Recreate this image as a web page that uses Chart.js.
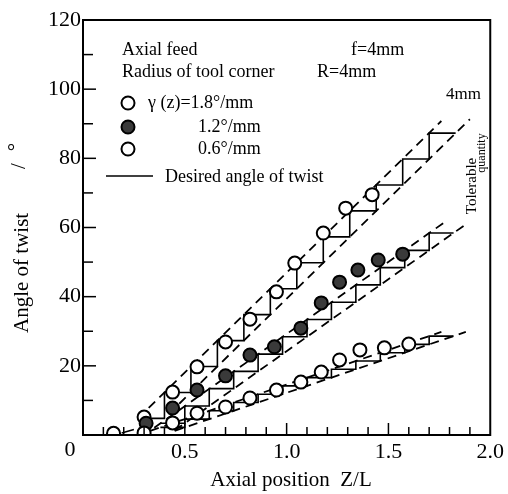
<!DOCTYPE html>
<html>
<head>
<meta charset="utf-8">
<script src="https://cdn.jsdelivr.net/npm/chart.js@4/dist/chart.umd.min.js"></script>
<style>
  body { margin: 0; background: #fff; }
  canvas { display: block; }
</style>
</head>
<body>
<canvas id="twistChart" width="508" height="494"></canvas>
<script>
const s18x = [0.30, 0.44, 0.56, 0.70, 0.82, 0.95, 1.04, 1.18, 1.29, 1.42];
const s18y = [5.2, 12.4, 19.7, 26.9, 33.5, 41.4, 49.7, 58.4, 65.6, 69.5];
const s12x = [0.31, 0.44, 0.56, 0.70, 0.82, 0.94, 1.07, 1.17, 1.26, 1.35, 1.45, 1.57];
const s12y = [3.4, 7.8, 13.0, 17.1, 23.1, 25.5, 30.9, 38.2, 44.2, 47.7, 50.6, 52.3];
const s06x = [0.15, 0.30, 0.44, 0.56, 0.70, 0.82, 0.95, 1.07, 1.17, 1.26, 1.36, 1.48, 1.60];
const s06y = [0.5, 0.6, 3.5, 6.3, 8.1, 10.7, 13.0, 15.3, 18.2, 21.7, 24.6, 25.2, 26.3];

// desired angle of twist (stepped): riser positions and tread levels
const step18x = [0.27, 0.40, 0.53, 0.66, 0.79, 0.92, 1.05, 1.18, 1.31, 1.44, 1.57, 1.70, 1.83];
const step18y = [4.8, 12.3, 19.8, 27.3, 34.8, 42.3, 49.8, 57.3, 64.8, 72.3, 79.8, 87.3];
const step12x = [0.38, 0.50, 0.62, 0.74, 0.86, 0.98, 1.10, 1.22, 1.34, 1.46, 1.58, 1.70, 1.82];
const step12y = [3.4, 8.4, 13.4, 18.4, 23.4, 28.4, 33.4, 38.4, 43.4, 48.4, 53.4, 58.4];
const step06x = [0.38, 0.50, 0.62, 0.74, 0.86, 0.98, 1.10, 1.22, 1.34, 1.46, 1.58, 1.70, 1.82];
const step06y = [2.2, 4.6, 7.0, 9.4, 11.8, 14.2, 16.6, 19.0, 21.4, 23.8, 26.2, 28.6];

// tolerable quantity bands (dashed)
const tol18aX = [0.27, 1.76], tol18aY = [4.8, 90.8];
const tol18bX = [0.42, 1.90], tol18bY = [6.0, 91.3];
const tol12aX = [0.35, 1.77], tol12aY = [2.1, 61.3];
const tol12bX = [0.45, 1.87], tol12bY = [1.3, 60.5];
const tol06aX = [0.33, 1.76], tol06aY = [1.2, 29.8];
const tol06bX = [0.45, 1.88], tol06bY = [1.2, 29.8];

// little arrow near the origin
const arrowX = [0.19, 0.25], arrowY = [0.6, 1.6];

const xTicks = [0.5, 1.0, 1.5, 2.0];
const yTicks = [20, 40, 60, 80, 100, 120];

const serif = '"Liberation Serif", "DejaVu Serif", serif';

function pts(xs, ys) {
    return xs.map((x, i) => ({ x: x, y: ys[i] }));
}

function stairs(xs, ys) {
    const out = [];
    for (let i = 0; i < ys.length; i++) {
        if (i > 0) out.push({ x: xs[i], y: ys[i - 1] });
        out.push({ x: xs[i], y: ys[i] });
    }
    out.push({ x: xs[xs.length - 1], y: ys[ys.length - 1] });
    return out;
}

function stepSet(xs, ys) {
    return {
        data: stairs(xs, ys), showLine: true, pointRadius: 0,
        borderColor: '#000', borderWidth: 1.6, order: 3
    };
}

function dashSet(xs, ys) {
    return {
        data: pts(xs, ys), showLine: true, pointRadius: 0,
        borderColor: '#000', borderWidth: 1.8, borderDash: [9, 6], order: 3
    };
}

function markSet(xs, ys, fill) {
    return {
        data: pts(xs, ys), showLine: false, pointRadius: 6.5,
        pointBackgroundColor: fill, pointBorderColor: '#000', pointBorderWidth: 2, order: 1
    };
}

// frame, inward ticks and all the loose text of the figure
const decor = {
    id: 'decor',
    afterDraw(chart) {
        const ctx = chart.ctx;
        const a = chart.chartArea;
        const xs = chart.scales.x, ys = chart.scales.y;
        ctx.save();
        ctx.strokeStyle = '#000';
        ctx.lineWidth = 2;
        ctx.strokeRect(a.left, a.top, a.right - a.left, a.bottom - a.top);

        ctx.lineWidth = 1.5;
        for (let v = 1; v < 20; v++) {
            const px = xs.getPixelForValue(v / 10);
            const len = v % 5 === 0 ? 12 : 8;
            ctx.beginPath();
            ctx.moveTo(px, a.bottom);
            ctx.lineTo(px, a.bottom - len);
            ctx.stroke();
        }
        for (let v = 10; v < 120; v += 10) {
            const py = ys.getPixelForValue(v);
            const len = v % 20 === 0 ? 13 : 10;
            ctx.beginPath();
            ctx.moveTo(a.left, py);
            ctx.lineTo(a.left + len, py);
            ctx.stroke();
        }

        ctx.fillStyle = '#000';
        ctx.textBaseline = 'middle';
        ctx.textAlign = 'center';
        ctx.font = '22px ' + serif;
        ctx.fillText('0', 70, 450);

        ctx.font = '21px ' + serif;
        ctx.fillText('Axial position  Z/L', 291, 480);

        // y title, rotated
        ctx.save();
        ctx.translate(22, 333);
        ctx.rotate(-Math.PI / 2);
        ctx.textAlign = 'left';
        ctx.fillText('Angle of twist', 0, 0);
        ctx.textAlign = 'center';
        ctx.fillText('/', 167, -3);
        ctx.fillText('°', 186, -6);
        ctx.restore();

        ctx.textAlign = 'left';
        ctx.font = '18px ' + serif;
        ctx.fillText('Axial feed', 122, 50);
        ctx.fillText('f=4mm', 351, 50);
        ctx.fillText('Radius of tool corner', 122, 72);
        ctx.fillText('R=4mm', 317, 72);
        ctx.font = '17px ' + serif;
        ctx.fillText('4mm', 446, 95);

        ctx.font = '18px ' + serif;
        ctx.fillText('γ (z)=1.8°/mm', 148, 103);
        ctx.fillText('1.2°/mm', 198, 127);
        ctx.fillText('0.6°/mm', 198, 149);
        ctx.fillText('Desired angle of twist', 165, 177);

        const marks = [[103, '#fff'], [127, '#3a3a3a'], [149, '#fff']];
        ctx.lineWidth = 2;
        marks.forEach(m => {
            ctx.beginPath();
            ctx.arc(128, m[0], 6.5, 0, Math.PI * 2);
            ctx.fillStyle = m[1];
            ctx.fill();
            ctx.stroke();
        });
        ctx.lineWidth = 1.6;
        ctx.beginPath();
        ctx.moveTo(106, 176);
        ctx.lineTo(153, 176);
        ctx.stroke();

        // tolerable quantity, vertical
        ctx.fillStyle = '#000';
        ctx.save();
        ctx.translate(472, 186);
        ctx.rotate(-Math.PI / 2);
        ctx.textAlign = 'center';
        ctx.font = '15px ' + serif;
        ctx.fillText('Tolerable', 0, 0);
        ctx.restore();
        ctx.save();
        ctx.translate(482, 153);
        ctx.rotate(-Math.PI / 2);
        ctx.textAlign = 'center';
        ctx.font = '12px ' + serif;
        ctx.fillText('quantity', 0, 0);
        ctx.restore();

        ctx.restore();
    }
};

const ctx = document.getElementById('twistChart').getContext('2d');
new Chart(ctx, {
    type: 'scatter',
    data: {
        datasets: [
            stepSet(step18x, step18y),
            stepSet(step12x, step12y),
            stepSet(step06x, step06y),
            dashSet(tol18aX, tol18aY),
            dashSet(tol18bX, tol18bY),
            dashSet(tol12aX, tol12aY),
            dashSet(tol12bX, tol12bY),
            dashSet(tol06aX, tol06aY),
            dashSet(tol06bX, tol06bY),
            {
                data: pts(arrowX, arrowY), showLine: true, pointRadius: 0,
                borderColor: '#000', borderWidth: 1.5, order: 3
            },
            markSet(s06x, s06y, '#fff'),
            markSet(s12x, s12y, '#3a3a3a'),
            markSet(s18x, s18y, '#fff')
        ]
    },
    options: {
        responsive: false,
        animation: false,
        layout: { padding: { top: 20, right: 17, left: 0, bottom: 0 } },
        plugins: { legend: { display: false }, tooltip: { enabled: false } },
        scales: {
            x: {
                type: 'linear', min: 0, max: 2,
                grid: { display: false, drawTicks: false, tickLength: 0 },
                border: { display: false },
                afterBuildTicks: s => { s.ticks = xTicks.map(v => ({ value: v })); },
                afterFit: s => { s.height = 59; },
                ticks: {
                    color: '#000', padding: 4, maxRotation: 0, autoSkip: false,
                    font: { family: serif, size: 22 },
                    callback: v => v.toFixed(1)
                }
            },
            y: {
                type: 'linear', min: 0, max: 120,
                grid: { display: false, drawTicks: false, tickLength: 0 },
                border: { display: false },
                afterBuildTicks: s => { s.ticks = yTicks.map(v => ({ value: v })); },
                afterFit: s => { s.width = 83; },
                ticks: {
                    color: '#000', padding: 2, autoSkip: false,
                    font: { family: serif, size: 22 },
                    callback: v => String(v)
                }
            }
        }
    },
    plugins: [decor]
});
</script>
</body>
</html>
